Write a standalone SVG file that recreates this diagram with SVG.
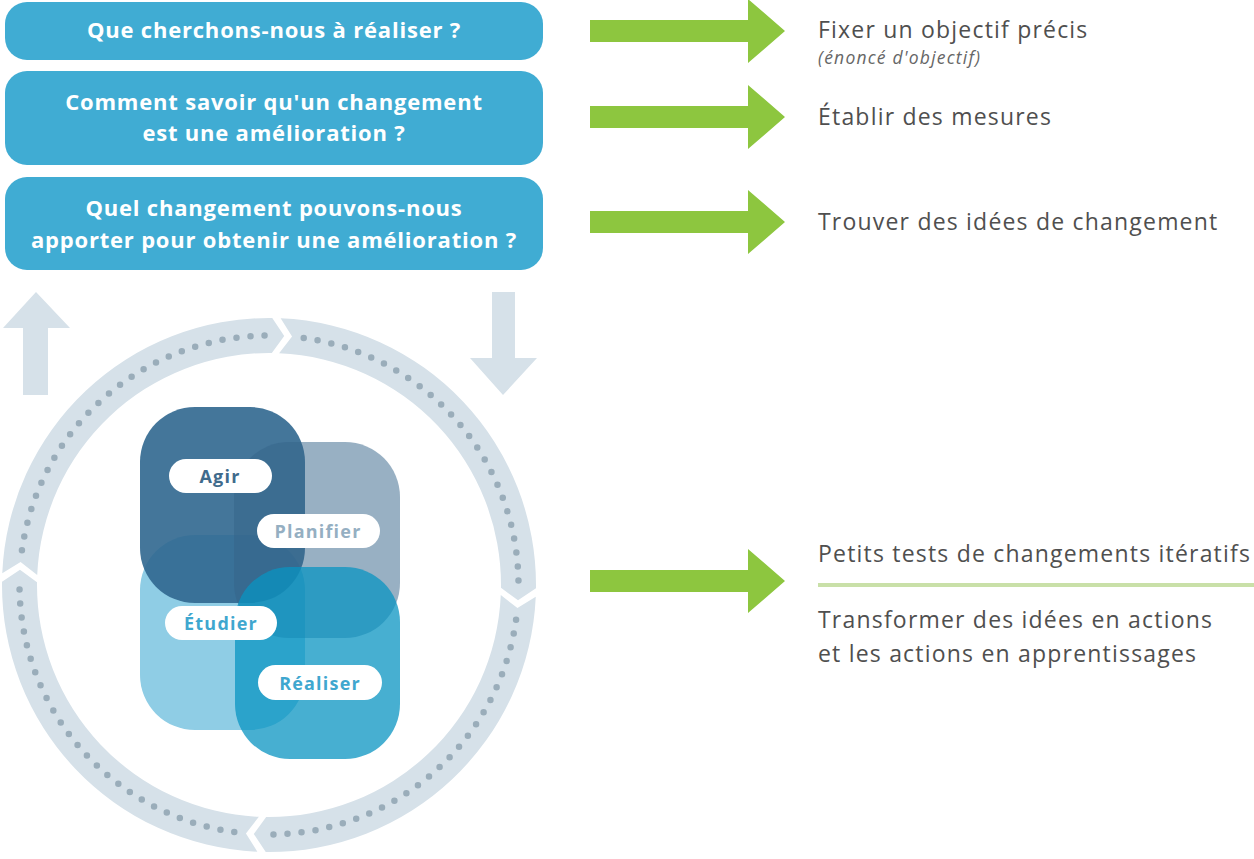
<svg xmlns="http://www.w3.org/2000/svg" xmlns:xlink="http://www.w3.org/1999/xlink" width="1254" height="859" viewBox="0 0 1254 859">
<style>
.q{fill:#40ACD3}
.qt{font-family:"Open Sans","Liberation Sans",sans-serif;font-weight:700;font-size:22px;letter-spacing:0.8px;fill:#fff;text-anchor:middle}
.rt{font-family:"Open Sans","Liberation Sans",sans-serif;font-size:23px;letter-spacing:1.2px;fill:#4f4f4f}
.it{font-family:"Open Sans","Liberation Sans",sans-serif;font-size:17.5px;letter-spacing:1.2px;font-style:italic;fill:#666}
.ga{fill:#8DC63F}
.gray{fill:#D6E1E9}
.ring{fill:#D6E1E9}
.dots{fill:none;stroke:#9AADBA;stroke-width:6.5;stroke-linecap:round;stroke-dasharray:0 14.1}
.pill{fill:#fff}
.pt{font-family:"Open Sans","Liberation Sans",sans-serif;font-weight:700;font-size:18px;letter-spacing:1.2px;text-anchor:middle}
</style>
<defs>
<path id="arrow" d="M0,-11 H158 V-32 L195,0 L158,32 V11 H0 Z"/>
<g id="seg">
<path class="ring" d="M266.75 11.65 A267 267 0 0 1 -3.26 266.98 L-15.23 249.03 L-2.83 231.98 A232 232 0 0 0 231.78 10.12 L248.43 23.05 Z"/>
<path class="dots" d="M247.07 34.72 A249.5 249.5 0 0 1 4.35 249.46"/>
</g>
</defs>
<rect width="1254" height="859" fill="#fff"/>

<g id="q1"><rect class="q" x="5" y="2" width="538" height="58" rx="22"/><text class="qt" x="274" y="38">Que cherchons-nous à réaliser ?</text></g>
<g id="q2"><rect class="q" x="5" y="71" width="538" height="94" rx="22"/><text class="qt" x="274" y="110">Comment savoir qu'un changement</text><text class="qt" x="274" y="141">est une amélioration ?</text></g>
<g id="q3"><rect class="q" x="5" y="177" width="538" height="93" rx="22"/><text class="qt" x="274" y="216">Quel changement pouvons-nous</text><text class="qt" x="274" y="248">apporter pour obtenir une amélioration ?</text></g>

<g id="cycle" transform="translate(269 585)">
<use xlink:href="#seg"/>
<use xlink:href="#seg" transform="rotate(90)"/>
<use xlink:href="#seg" transform="rotate(180)"/>
<use xlink:href="#seg" transform="rotate(270)"/>
</g>

<g id="pdsa">
<rect x="140" y="535" width="165" height="195" rx="55" fill="#8FCDE5"/>
<rect x="140" y="407" width="165" height="196" rx="55" fill="#30678F" fill-opacity="0.9"/>
<rect x="234" y="442" width="166" height="196" rx="55" fill="#34658A" fill-opacity="0.51"/>
<rect x="235" y="567" width="165" height="192" rx="55" fill="#0A94C2" fill-opacity="0.75"/>
</g>
<g id="agir"><rect class="pill" x="169" y="459" width="103" height="34" rx="17"/><text class="pt" x="220" y="483" fill="#3F6B8C">Agir</text></g>
<g id="planifier"><rect class="pill" x="257" y="514" width="123" height="34" rx="17"/><text class="pt" x="318" y="538" fill="#95AFC2">Planifier</text></g>
<g id="etudier"><rect class="pill" x="165" y="606" width="112" height="34" rx="17"/><text class="pt" x="221" y="630" fill="#3FA7CF">Étudier</text></g>
<g id="realiser"><rect class="pill" x="258" y="665" width="124" height="35" rx="17.5"/><text class="pt" x="320" y="690" fill="#3FA7CF">Réaliser</text></g>

<g id="connectors">
<path class="gray" d="M36,292 L70,328 L48,328 L48,395 L23,395 L23,328 L3,328 Z"/>
<path class="gray" d="M492,292 H515 V358 H537 L503,395 L470,358 H492 Z"/>
<use xlink:href="#arrow" class="ga" transform="translate(590 31)"/>
<use xlink:href="#arrow" class="ga" transform="translate(590 117)"/>
<use xlink:href="#arrow" class="ga" transform="translate(590 222)"/>
<use xlink:href="#arrow" class="ga" transform="translate(590 581)"/>
</g>

<g id="t1"><text class="rt" x="818" y="38">Fixer un objectif précis</text><text class="it" x="818" y="64">(énoncé d'objectif)</text></g>
<g id="t2"><text class="rt" x="818" y="125">Établir des mesures</text></g>
<g id="t3"><text class="rt" x="818" y="230">Trouver des idées de changement</text></g>
<g id="t4">
<text class="rt" x="818" y="562">Petits tests de changements itératifs</text>
<line x1="818" y1="585" x2="1254" y2="585" stroke="#C9E0A8" stroke-width="4"/>
<text class="rt" x="818" y="628">Transformer des idées en actions</text>
<text class="rt" x="818" y="662">et les actions en apprentissages</text>
</g>
</svg>
